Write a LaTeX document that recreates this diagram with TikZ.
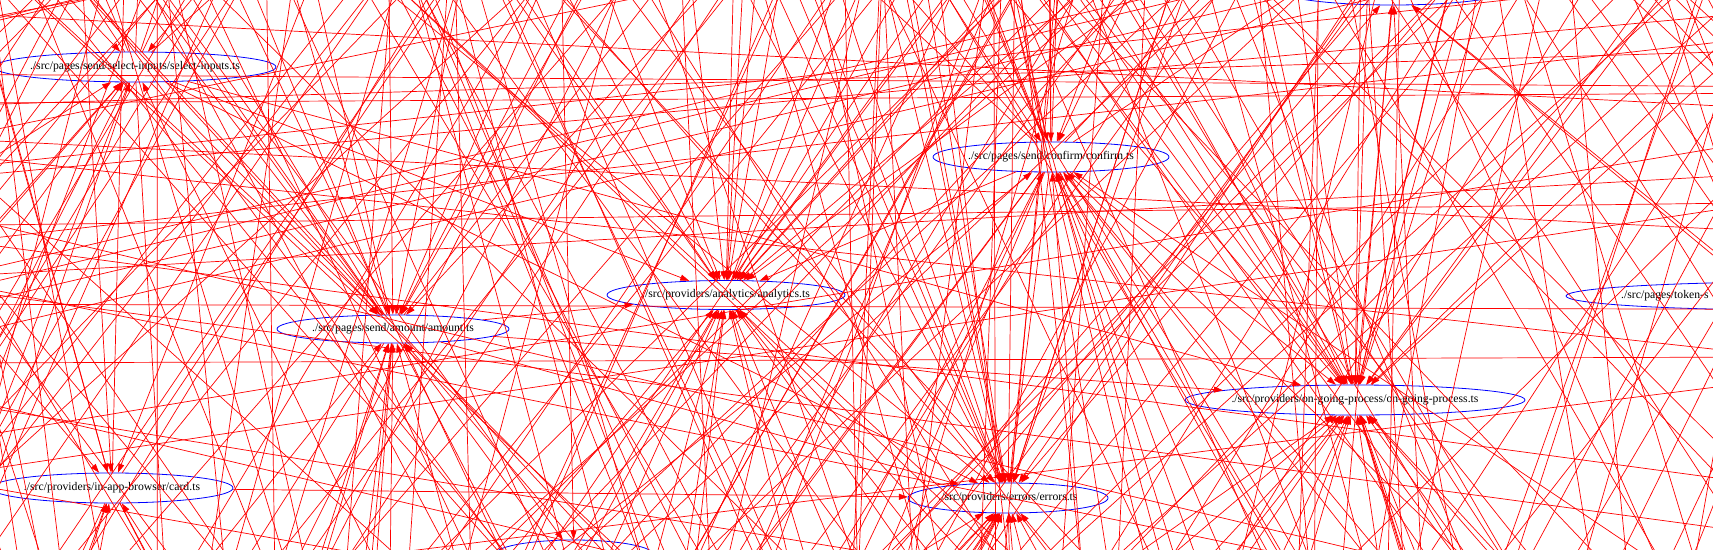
\documentclass[tikz,border=0pt]{standalone}
\usepackage{fontspec}
\setmainfont{Liberation Serif}
\usetikzlibrary{arrows.meta,shapes.geometric,calc}

\begin{document}
\begin{tikzpicture}[x=1pt,y=-1pt,
 file/.style={draw=blue,ellipse,line width=0.8pt,inner sep=0pt,font=\fontsize{11.7}{13}\selectfont},
 dep/.style={draw=red,line width=0.7pt,-{Triangle[length=9pt,width=6pt]}}]
\useasboundingbox (0,0) rectangle (1713,549);
\clip (0,0) rectangle (1713,549);
% files of the dependency graph
\node[file,minimum width=282pt,minimum height=30pt] (sel) at (135,67) {\makebox[0pt]{./src/pages/send/select-inputs/select-inputs.ts}};
\node[file,minimum width=236pt,minimum height=30pt] (conf) at (1051,157) {\makebox[0pt]{./src/pages/send/confirm/confirm.ts}};
\node[file,minimum width=238pt,minimum height=29pt] (anal) at (726,295) {\makebox[0pt]{./src/providers/analytics/analytics.ts}};
\node[file,minimum width=232pt,minimum height=28pt] (amt) at (393,329) {\makebox[0pt]{./src/pages/send/amount/amount.ts}};
\node[file,minimum width=340pt,minimum height=30pt] (ogp) at (1355,400) {\makebox[0pt]{./src/providers/on-going-process/on-going-process.ts}};
\node[file,minimum width=242pt,minimum height=30pt] (card) at (112,488) {\makebox[0pt]{./src/providers/in-app-browser/card.ts}};
\node[file,minimum width=200pt,minimum height=30pt] (err) at (1008,498) {\makebox[0pt]{./src/providers/errors/errors.ts}};
\node[file,minimum width=460pt,minimum height=28pt] (tok) at (1796,296) {};
\node[anchor=west,inner sep=0pt,font=\fontsize{11.7}{13}\selectfont] (toklabel) at (1621,296) {./src/pages/token-s};
\node[file,minimum width=230pt,minimum height=30pt] (topf) at (1393,-10) {};
\node[file,minimum width=160pt,minimum height=30pt] (botf) at (574,555) {};

\pgfmathsetseed{11}
% imports between files outside the picture
\foreach \k in {1,...,230}{
 \pgfmathsetmacro\xa{rnd*2300-300}
 \pgfmathsetmacro\xb{\xa+(rnd-0.5)*1500}
 \coordinate (ua) at (\xa,-60);
 \coordinate (ub) at (\xb,610);
 \draw[dep] (ua) -- (ub);
}
\foreach \k in {1,...,34}{
 \pgfmathsetmacro\ya{rnd*700-80}
 \pgfmathsetmacro\yb{\ya+(rnd-0.5)*900}
 \coordinate (ua) at (-60,\ya);
 \coordinate (ub) at (1773,\yb);
 \draw[dep] (ua) -- (ub);
}
% imports of the shown files
\foreach \n/\m in {sel/8,conf/14,anal/28,amt/18,ogp/34,card/8,err/30,topf/8,botf/5,tok/4}{
 \foreach \k in {1,...,\m}{
  \pgfmathsetmacro\dx{(rnd-0.5)*1800}
  \pgfmathsetmacro\dy{ifthenelse(rnd<0.5,-1,1)*(520+rnd*600)}
  \coordinate (src) at ($(\n)+(\dx,\dy)$);
  \draw[dep] (src) -- (\n);
 }
}
% files imported by the shown files
\foreach \n/\m in {conf/16,sel/10,amt/10,card/6,anal/3,ogp/3,err/3}{
 \foreach \k in {1,...,\m}{
  \pgfmathsetmacro\dx{(rnd-0.5)*1800}
  \pgfmathsetmacro\dy{ifthenelse(rnd<0.5,-1,1)*(520+rnd*600)}
  \coordinate (dst) at ($(\n)+(\dx,\dy)$);
  \draw[dep] (\n) -- (dst);
 }
}
\foreach \a/\b in {conf/ogp,conf/err,conf/anal,amt/anal,amt/ogp,amt/err,sel/ogp,sel/err,sel/anal,card/err}
 \draw[dep] (\a) -- (\b);
\end{tikzpicture}
\end{document}
